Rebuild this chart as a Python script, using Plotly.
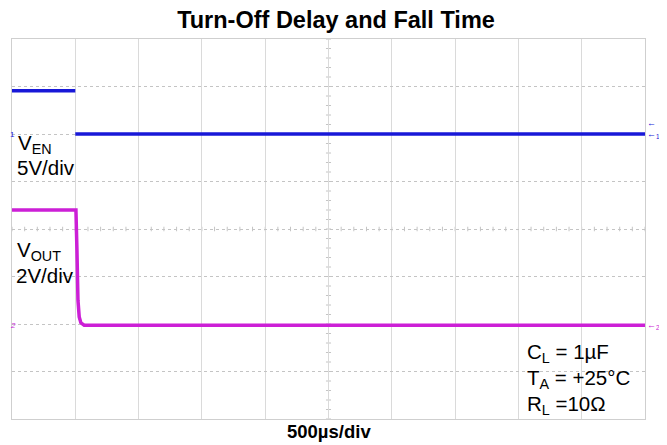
import plotly.graph_objects as go

# ---- data (read from the scope capture) ----
# time axis in microseconds, 500 us/div, 10 divisions
t_ven = [0, 500, None, 500, 5000]
v_ven = [4.55, 4.55, None, 0.0, 0.0]          # volts, CH1 5 V/div

t_vout = [0, 505, 513, 521, 531, 544, 570, 5000]
v_vout = [4.8, 4.8, 3.1, 1.0, 0.3, 0.05, -0.05, -0.05]   # volts, CH2 2 V/div

title_text = "Turn-Off Delay and Fall Time"
x_label = "500µs/div"
cond_lines = ["C<sub>L</sub> = 1µF", "T<sub>A</sub> = +25°C", "R<sub>L</sub> =10Ω"]

# the page body has an 8px margin, so the figure is drawn 8px in from the corner
O = 8
W, H = 667 - O, 445 - O
L, R, T, B = 12 - O, 22, 39 - O, 26
PW, PH = W - L - R, H - T - B

def px(x):
    return (x - O - L) / PW

def py(y):
    return (H - B - (y - O)) / PH

BLUE = "#1818d8"
MAG = "#cc1fd6"
FONT = "Liberation Sans, Arial, sans-serif"

fig = go.Figure()
fig.add_trace(go.Scatter(x=t_ven, y=v_ven, mode="lines", yaxis="y",
                         line=dict(color=BLUE, width=3.5), connectgaps=False,
                         hoverinfo="skip", showlegend=False))
fig.add_trace(go.Scatter(x=t_vout, y=v_vout, mode="lines", yaxis="y2",
                         line=dict(color=MAG, width=3.5),
                         hoverinfo="skip", showlegend=False))

shapes = []
# centre cross minor ticks
for i in range(51):
    x = i * 100
    shapes.append(dict(type="line", xref="x", yref="y domain", x0=x, x1=x,
                       y0=0.5 - 0.006, y1=0.5 + 0.006,
                       line=dict(color="#c4c4c4", width=1), layer="below"))
for i in range(41):
    y = i / 40
    shapes.append(dict(type="line", xref="x domain", yref="y domain",
                       x0=0.5 - 0.004, x1=0.5 + 0.004, y0=y, y1=y,
                       line=dict(color="#c4c4c4", width=1), layer="below"))

ann = []
def text(s, x, y, size=20.5, color="black", xanchor="left", pad=1):
    ann.append(dict(text=s, xref="paper", yref="paper", x=px(x), y=py(y),
                    xanchor=xanchor, yanchor="middle", showarrow=False,
                    borderpad=pad,
                    font=dict(family=FONT, size=size, color=color)))

text("V<sub>EN</sub>", 16, 144)
text("5V/div", 15, 168)
text("V<sub>OUT</sub>", 15, 251)
text("2V/div", 14, 275)
for k, s in enumerate(cond_lines):
    text(s, 525, 353 + 26 * k)
text("<b>" + x_label + "</b>", 329, 431, size=18.5, xanchor="center")
# channel markers
text("1", 9, 134, size=8, color=BLUE, pad=0)
text("<i>2</i>", 9, 325, size=8, color=MAG, pad=0)
text("←", 646, 123, size=9, color=BLUE, pad=0)
text("←<sub>1</sub>", 646, 134, size=9, color=BLUE, pad=0)
text("←<sub>2</sub>", 646, 325, size=9, color=MAG, pad=0)

fig.update_layout(
    width=W, height=H,
    margin=dict(l=L, r=R, t=T, b=B),
    paper_bgcolor="white", plot_bgcolor="white",
    title=dict(text="<b>" + title_text + "</b>", x=(336 - O) / W, xanchor="center",
               y=1 - (20 - O) / H, yanchor="middle",
               font=dict(family=FONT, size=23.5, color="black")),
    xaxis=dict(range=[0, 5000], dtick=500, tick0=0, showticklabels=False,
               ticks="", showgrid=True, gridcolor="#dadada", gridwidth=1,
               zeroline=False, showline=True, mirror=True, linecolor="#cfcfcf"),
    yaxis=dict(range=[-30, 10], dtick=5, tick0=0, showticklabels=False,
               ticks="", showgrid=True, gridcolor="#c4c4c4", griddash="dot",
               zeroline=False, showline=True, mirror=True, linecolor="#cfcfcf"),
    yaxis2=dict(range=[-4, 12], overlaying="y", showgrid=False,
                showticklabels=False, ticks="", zeroline=False, showline=False),
    shapes=shapes, annotations=ann,
)

fig.write_html("out.html")
